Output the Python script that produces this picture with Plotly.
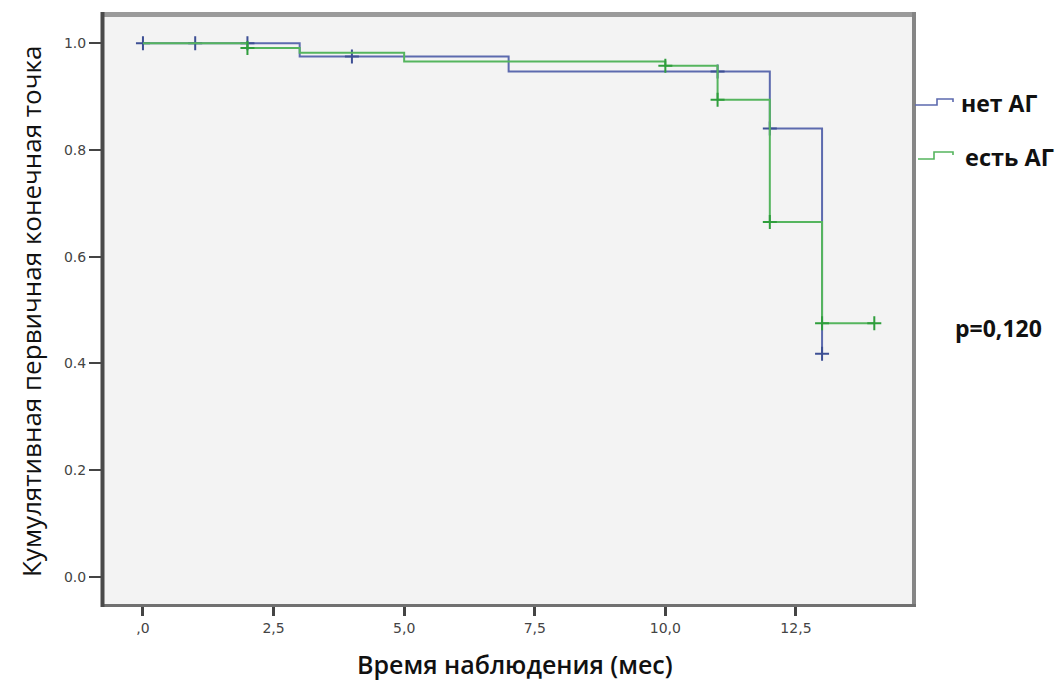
import plotly.graph_objects as go

# ---- data ----
blue_name = "нет АГ"
blue_t = [0, 3, 7, 12, 13]
blue_s = [1.0, 0.975, 0.947, 0.840, 0.418]
blue_cens_t = [0, 1, 2, 4, 11, 12, 13]
blue_cens_s = [1.0, 1.0, 1.0, 0.975, 0.947, 0.840, 0.418]

green_name = "есть АГ"
green_t = [0, 2, 3, 5, 10, 11, 12, 13, 14]
green_s = [1.0, 0.991, 0.982, 0.966, 0.958, 0.894, 0.665, 0.475, 0.475]
green_cens_t = [2, 10, 11, 12, 13, 14]
green_cens_s = [0.991, 0.958, 0.894, 0.665, 0.475, 0.475]

x_tickvals = [0, 2.5, 5, 7.5, 10, 12.5]
x_ticktext = [",0", "2,5", "5,0", "7,5", "10,0", "12,5"]
y_tickvals = [0, 0.2, 0.4, 0.6, 0.8, 1.0]
y_ticktext = ["0.0", "0.2", "0.4", "0.6", "0.8", "1.0"]

p_text = "p=0,120"
x_title = "Время наблюдения (мес)"
y_title = "Кумулятивная первичная конечная точка"

BLUE = "#5c6aae"
BLUE_DARK = "#3d4f94"
GREEN = "#55b55e"
GREEN_DARK = "#2f9e3c"

W, H = 1060, 680
L, R, T, B = 103, 146, 15, 74
PW, PH = W - L - R, H - T - B


def px(xp):
    return (xp - L) / PW


def py(yp):
    return (H - B - yp) / PH


fig = go.Figure()
fig.add_trace(go.Scatter(x=blue_t, y=blue_s, mode="lines", line=dict(color=BLUE, width=2, shape="hv"),
                         name=blue_name, showlegend=False, hoverinfo="skip"))
fig.add_trace(go.Scatter(x=blue_cens_t, y=blue_cens_s, mode="markers",
                         marker=dict(symbol="cross-thin", size=10, line=dict(color=BLUE_DARK, width=2)),
                         showlegend=False, hoverinfo="skip"))
fig.add_trace(go.Scatter(x=green_t, y=green_s, mode="lines", line=dict(color=GREEN, width=2, shape="hv"),
                         name=green_name, showlegend=False, hoverinfo="skip"))
fig.add_trace(go.Scatter(x=green_cens_t, y=green_cens_s, mode="markers",
                         marker=dict(symbol="cross-thin", size=10, line=dict(color=GREEN_DARK, width=2)),
                         showlegend=False, hoverinfo="skip"))

shapes = []
# frame borders
shapes.append(dict(type="line", xref="paper", yref="paper", x0=0, x1=1, y0=py(14.5), y1=py(14.5),
                   line=dict(color="#9a9a9a", width=5), layer="above"))
shapes.append(dict(type="line", xref="paper", yref="paper", x0=px(914), x1=px(914), y0=py(12), y1=py(607),
                   line=dict(color="#858585", width=4), layer="above"))
shapes.append(dict(type="line", xref="paper", yref="paper", x0=px(101), x1=px(916), y0=py(605.5), y1=py(605.5),
                   line=dict(color="#707070", width=3), layer="above"))
shapes.append(dict(type="line", xref="paper", yref="paper", x0=px(102.5), x1=px(102.5), y0=py(12), y1=py(607),
                   line=dict(color="#4a4a4a", width=4), layer="above"))


def step_icon(x0, ylow, yhigh, xs, x1, color):
    path = (f"M {px(x0)},{py(ylow)} L {px(xs)},{py(ylow)} L {px(xs)},{py(yhigh)} "
            f"L {px(x1)},{py(yhigh)} L {px(x1)},{py(yhigh + 3)}")
    return dict(type="path", xref="paper", yref="paper", path=path, line=dict(color=color, width=1.6))


shapes.append(step_icon(915, 105, 99, 937, 953, BLUE))
shapes.append(step_icon(918, 159, 152, 934, 953, GREEN))

annotations = [
    dict(text=blue_name, xref="paper", yref="paper", x=px(959), y=py(103), xanchor="left", yanchor="middle",
         showarrow=False, font=dict(family="Open Sans", size=23, color="#111111", weight=700)),
    dict(text=green_name, xref="paper", yref="paper", x=px(963), y=py(157), xanchor="left", yanchor="middle",
         showarrow=False, font=dict(family="Open Sans", size=23.5, color="#111111", weight=700)),
    dict(text=p_text, xref="paper", yref="paper", x=px(953), y=py(328), xanchor="left", yanchor="middle",
         showarrow=False, font=dict(family="Open Sans", size=23, color="#111111", weight=700)),
    dict(text=x_title, xref="paper", yref="paper", x=px(515), y=py(664), xanchor="center", yanchor="middle",
         showarrow=False, font=dict(family="Open Sans", size=25, color="#111111", weight=600)),
    dict(text=y_title, xref="paper", yref="paper", x=px(31), y=py(312), xanchor="center", yanchor="middle",
         textangle=-90, showarrow=False, font=dict(family="Open Sans", size=26, color="#111111", weight=400)),
]

fig.update_layout(
    width=W, height=H,
    margin=dict(l=L, r=R, t=T, b=B, pad=0),
    paper_bgcolor="white",
    plot_bgcolor="#f3f3f3",
    shapes=shapes,
    annotations=annotations,
    showlegend=False,
    xaxis=dict(range=[-0.765, 14.76], tickvals=x_tickvals, ticktext=x_ticktext, showgrid=False, zeroline=False,
               showline=False, ticks="outside", ticklen=9, tickwidth=2.5, tickcolor="#444444",
               tickfont=dict(family="DejaVu Sans", size=14, color="#444444")),
    yaxis=dict(range=[-0.055, 1.053], tickvals=y_tickvals, ticktext=y_ticktext, showgrid=False, zeroline=False,
               showline=False, ticks="outside", ticklen=13, tickwidth=2, tickcolor="#444444",
               tickfont=dict(family="DejaVu Sans", size=14, color="#444444")),
)

fig.write_html("out.html", config={"displayModeBar": False},
               post_script="document.body.style.margin='0px';document.body.style.overflow='hidden';")
